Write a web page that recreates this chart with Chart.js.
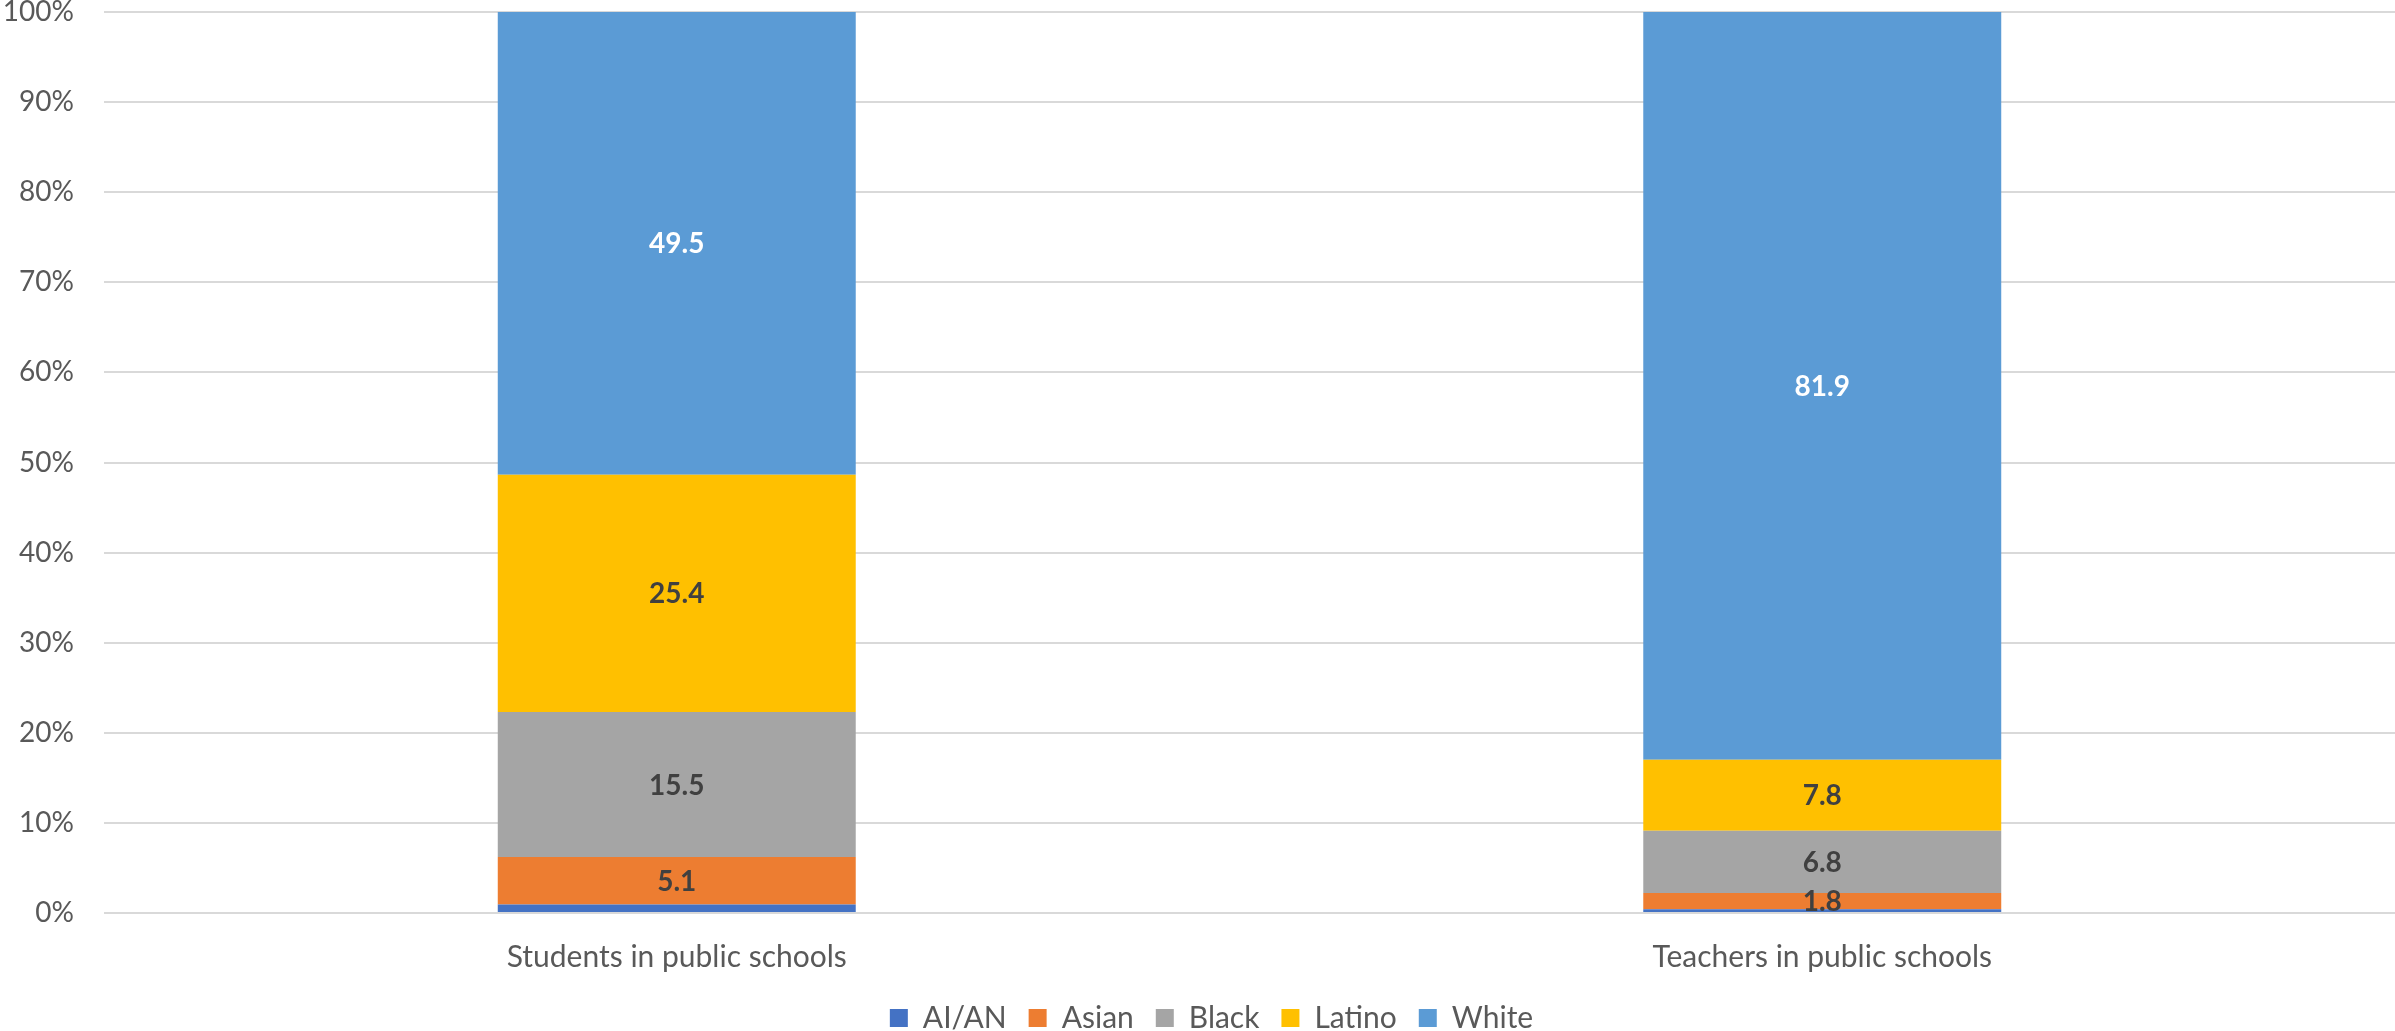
<!DOCTYPE html>
<html>
<head>
<meta charset="utf-8">
<script src="https://cdn.jsdelivr.net/npm/chart.js@4"></script>
<style>
  html, body { margin: 0; padding: 0; background: #ffffff; }
  #wrap { width: 2395px; height: 1031px; position: relative; }
</style>
</head>
<body>
<div id="wrap"><canvas id="chart" width="2395" height="1031"></canvas></div>
<script>
// Share of each race/ethnicity group (percent)
const categories = ['Students in public schools', 'Teachers in public schools'];
const aiAn   = [0.9, 0.4];
const asian  = [5.1, 1.8];
const black  = [15.5, 6.8];
const latino = [25.4, 7.8];
const white  = [49.5, 81.9];
const yTickValues = [0, 10, 20, 30, 40, 50, 60, 70, 80, 90, 100];

const seriesNames  = ['AI/AN', 'Asian', 'Black', 'Latino', 'White'];
const seriesValues = [aiAn, asian, black, latino, white];
const seriesColors = ['#4472C4', '#ED7D31', '#A5A5A5', '#FFC000', '#5B9BD5'];
const labelColors  = [null, '#404040', '#404040', '#404040', '#FFFFFF'];

// 100% stacked: each column is scaled by its own total
const totals = categories.map((_, i) => seriesValues.reduce((s, arr) => s + arr[i], 0));

const datasets = seriesNames.map((name, k) => ({
  label: name,
  data: seriesValues[k].map((v, i) => v / totals[i] * 100),
  raw: seriesValues[k],
  labelColor: labelColors[k],
  backgroundColor: seriesColors[k],
  borderWidth: 0,
  categoryPercentage: 1,
  barPercentage: 0.3125
}));

const FONT = 'Lato, "Open Sans", sans-serif';

// Writes each segment's value in its middle
const segmentLabels = {
  id: 'segmentLabels',
  afterDatasetsDraw(chart) {
    const ctx = chart.ctx;
    ctx.save();
    ctx.font = 'bold 28px ' + FONT;
    ctx.textAlign = 'center';
    ctx.textBaseline = 'middle';
    chart.data.datasets.forEach((ds, di) => {
      if (!ds.labelColor) return;
      const meta = chart.getDatasetMeta(di);
      meta.data.forEach((bar, i) => {
        const yMid = (bar.y + bar.base) / 2;
        ctx.fillStyle = ds.labelColor;
        ctx.fillText(ds.raw[i].toFixed(1), bar.x, yMid + 1);
      });
    });
    ctx.restore();
  }
};

// Centres the legend under the plot area rather than the whole canvas
const legendUnderPlot = {
  id: 'legendUnderPlot',
  afterLayout(chart) {
    const lg = chart.legend;
    if (!lg) return;
    const shift = 14;
    lg.left += shift;
    lg.right += shift;
  }
};

new Chart(document.getElementById('chart'), {
  type: 'bar',
  data: { labels: categories, datasets },
  options: {
    responsive: false,
    animation: false,
    layout: { padding: { top: 12, right: 0, left: 0, bottom: -12 } },
    plugins: {
      legend: {
        position: 'bottom',
        labels: {
          boxWidth: 18,
          boxHeight: 18,
          padding: 22,
          color: '#595959',
          font: { family: FONT, size: 30, lineHeight: 1 }
        }
      },
      tooltip: { enabled: false }
    },
    scales: {
      x: {
        stacked: true,
        grid: { display: false, drawTicks: false },
        border: { display: false },
        ticks: {
          color: '#595959',
          font: { family: FONT, size: 30 },
          padding: 26
        },
        afterFit(s) { s.height = 68; }
      },
      y: {
        stacked: true,
        min: 0,
        max: 100,
        afterBuildTicks(s) { s.ticks = yTickValues.map(v => ({ value: v })); },
        grid: { color: '#D9D9D9', lineWidth: 2, drawTicks: false },
        border: { display: false },
        ticks: {
          color: '#595959',
          font: { family: FONT, size: 28 },
          padding: 30,
          callback: v => v + '%'
        },
        afterFit(s) { s.width = 104; s.paddingTop = 0; }
      }
    }
  },
  plugins: [segmentLabels, legendUnderPlot]
});
</script>
</body>
</html>
